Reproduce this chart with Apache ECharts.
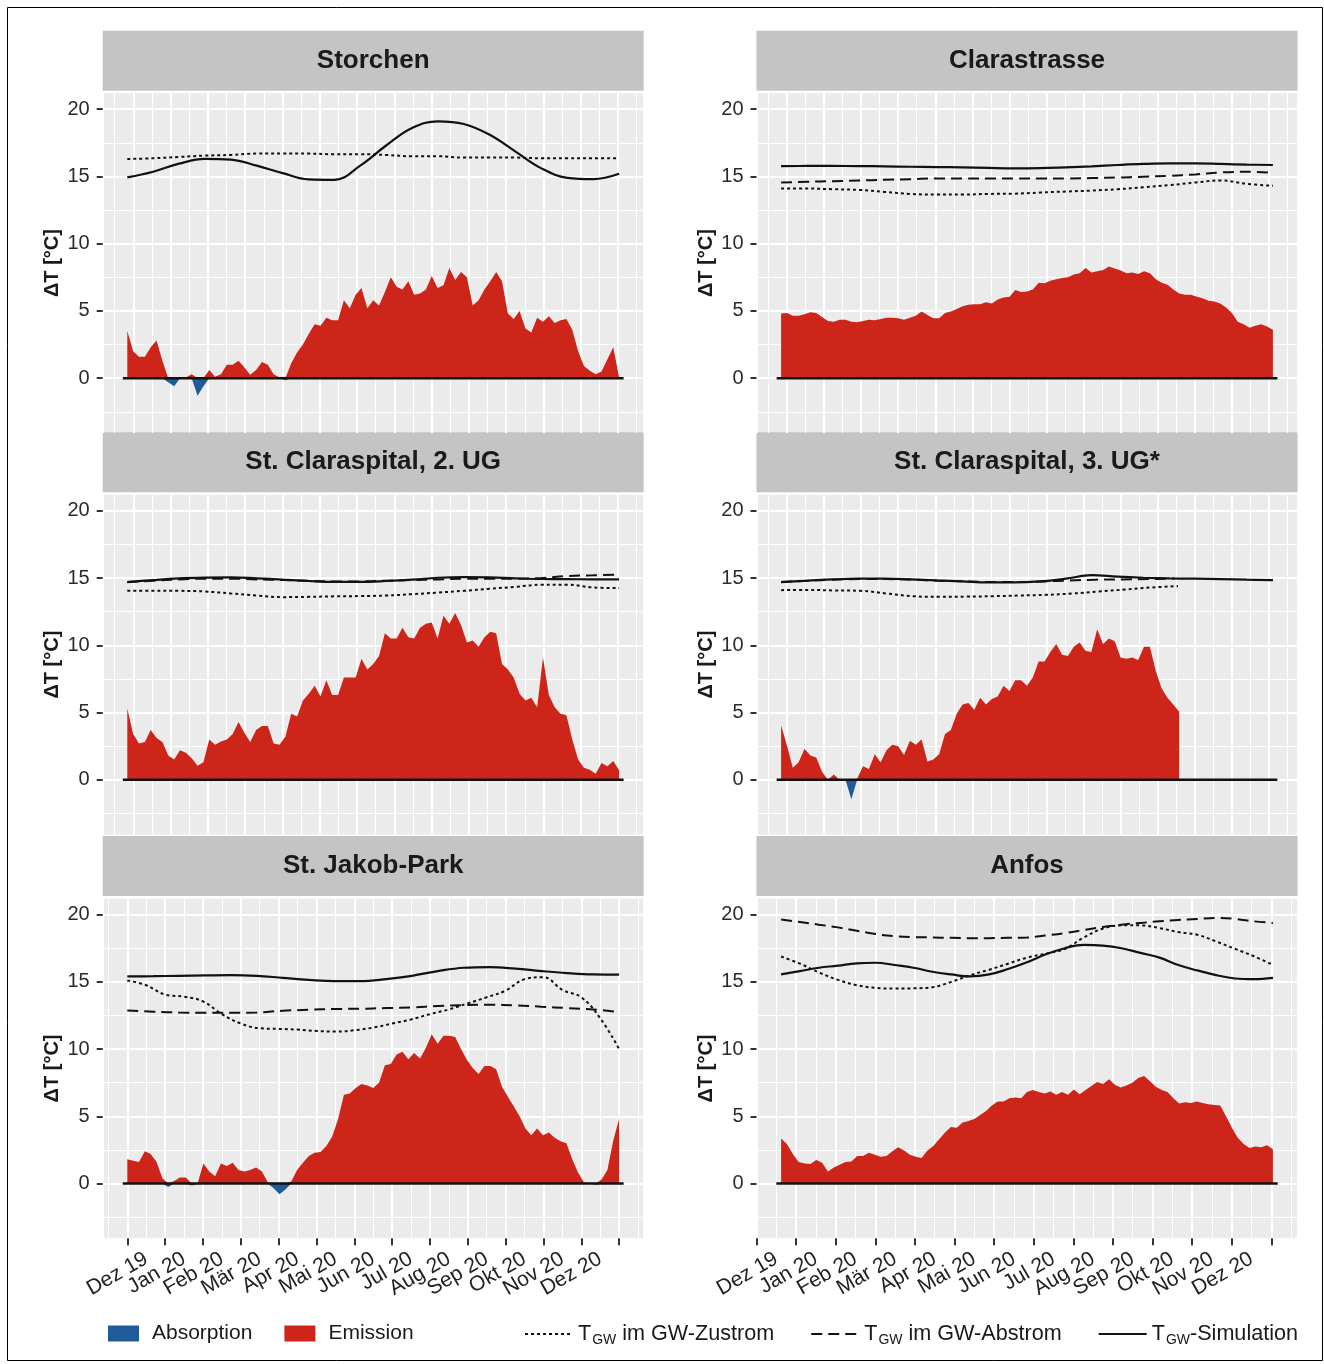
<!DOCTYPE html>
<html><head><meta charset="utf-8">
<script src="https://cdn.jsdelivr.net/npm/echarts@6/dist/echarts.min.js"></script>
<style>html,body{margin:0;padding:0;background:#fff}#c{width:1324px;height:1364px}</style>
</head><body><div id="c"></div>
<script>
// ---------- tick labels / titles ----------
const monthLabels = ['Dez 19','Jan 20','Feb 20','Mär 20','Apr 20','Mai 20','Jun 20','Jul 20','Aug 20','Sep 20','Okt 20','Nov 20','Dez 20'];
const yTicks = [0,5,10,15,20];
const panelTitles = ['Storchen','Clarastrasse','St. Claraspital, 2. UG','St. Claraspital, 3. UG*','St. Jakob-Park','Anfos'];
const legendNames = ['Absorption','Emission','Zustrom','Abstrom','Simulation'];
const legendSuffix = {Zustrom:' im GW-Zustrom', Abstrom:' im GW-Abstrom', Simulation:'-Simulation'};

// ---------- data (time in months since 1 Dec 2019, values in °C) ----------
// Storchen
const storchenSpan = [-0.16, 13.03];
const storchenDT = [3.5,2.0,1.6,1.6,2.3,2.8,1.3,-0.3,-0.6,0.0,0.05,0.3,-1.3,-0.6,0.6,0.1,0.3,1.0,1.0,1.3,0.8,0.25,0.6,1.2,1.0,0.3,0.05,-0.15,1.1,1.9,2.5,3.3,4.0,3.9,4.5,4.3,4.3,5.8,5.2,6.2,6.7,5.2,5.8,5.4,6.4,7.5,6.8,6.6,7.2,6.2,6.3,6.6,7.6,6.7,6.9,8.2,7.3,7.9,7.5,5.4,5.8,6.6,7.2,7.9,7.2,4.8,4.4,5.0,3.7,3.4,4.5,4.2,4.6,4.1,4.3,4.4,3.6,2.0,0.9,0.55,0.3,0.5,1.4,2.3,0.05];
const storchenZu = [16.3,16.35,16.45,16.55,16.6,16.7,16.7,16.7,16.65,16.65,16.6,16.5,16.5,16.4,16.4,16.4,16.35,16.35,16.35,16.35];
const storchenSim = [14.93,15.35,15.95,16.3,16.25,15.8,15.25,14.78,14.75,15.8,17.3,18.6,19.1,18.9,18.1,16.85,15.6,14.9,14.8,15.2];
// Clarastrasse
const claraSpan = [-0.16, 13.11];
const claraDT = [4.8,4.85,4.65,4.65,4.75,4.9,4.85,4.55,4.25,4.2,4.35,4.35,4.2,4.15,4.25,4.35,4.3,4.4,4.5,4.5,4.45,4.35,4.5,4.65,4.95,4.7,4.45,4.45,4.85,4.95,5.15,5.35,5.45,5.5,5.5,5.65,5.55,5.85,6.0,6.05,6.55,6.4,6.45,6.6,7.1,7.05,7.25,7.35,7.45,7.5,7.7,7.8,8.2,7.85,7.95,8.05,8.3,8.15,8.0,7.8,7.85,7.75,7.95,7.8,7.35,7.1,6.95,6.6,6.3,6.2,6.2,6.05,5.95,5.75,5.7,5.55,5.25,4.85,4.2,4.0,3.75,3.9,4.0,3.85,3.6];
const claraZu = [14.1,14.1,14.05,14.0,13.85,13.7,13.65,13.65,13.7,13.72,13.8,13.88,13.95,14.05,14.2,14.35,14.55,14.7,14.45,14.3];
const claraAb = [14.55,14.6,14.65,14.7,14.75,14.8,14.85,14.85,14.85,14.85,14.85,14.85,14.88,14.92,14.98,15.05,15.15,15.3,15.35,15.27];
const claraSim = [15.77,15.78,15.78,15.77,15.75,15.72,15.7,15.67,15.63,15.6,15.62,15.68,15.75,15.85,15.93,15.97,15.97,15.93,15.88,15.85];
// St. Claraspital, 2. UG
const spital2Span = [-0.16, 13.03];
const spital2DT = [5.3,3.4,2.7,2.8,3.7,3.1,2.8,1.8,1.5,2.2,2.0,1.6,1.05,1.3,3.0,2.6,2.85,3.0,3.4,4.3,3.5,2.8,3.7,4.0,4.0,2.7,2.6,3.2,4.9,4.7,5.9,6.4,7.0,6.2,7.4,6.3,6.3,7.6,7.6,7.6,9.0,8.2,8.6,9.2,10.9,10.5,10.5,11.3,10.6,10.5,11.3,11.6,11.7,10.5,12.2,11.6,12.4,11.5,10.2,10.35,9.9,10.6,11.0,10.9,8.6,8.2,7.6,6.4,5.9,6.1,5.4,9.1,6.3,5.4,4.9,4.8,3.0,1.5,0.9,0.75,0.45,1.25,1.0,1.4,0.7];
const spital2Zu = [14.06,14.06,14.05,14.0,13.85,13.7,13.58,13.6,13.64,13.66,13.7,13.8,13.92,14.05,14.2,14.35,14.5,14.5,14.3,14.25];
const spital2Ab = [14.7,14.8,14.9,14.95,14.95,14.9,14.85,14.8,14.75,14.75,14.8,14.85,14.9,14.95,14.95,14.95,15.0,15.15,15.2,15.25];
const spital2Sim = [14.7,14.85,14.97,15.03,15.05,14.98,14.88,14.78,14.72,14.72,14.78,14.88,15.02,15.07,15.05,14.98,14.93,14.92,14.9,14.9];
// St. Claraspital, 3. UG*
const spital3Span = [-0.16, 13.11];
const spital3DTSpan = [-0.16, 10.58];
const spital3DT = [4.05,2.55,0.9,1.3,2.3,1.8,1.65,0.6,-0.1,0.4,-0.05,0.05,-1.45,0.1,1.0,0.8,1.9,1.3,2.2,2.6,2.5,1.85,2.9,2.6,3.0,1.35,1.5,1.9,3.4,3.7,4.9,5.6,5.7,5.2,6.1,5.6,6.0,6.2,7.0,6.6,7.4,7.4,7.0,7.6,8.8,8.8,9.5,10.1,9.3,9.2,9.9,10.2,9.6,9.5,11.2,10.1,10.5,10.3,9.1,9.0,9.1,8.9,9.9,9.9,8.1,6.8,6.1,5.6,5.05];
const spital3ZuSpan = [-0.16, 10.55];
const spital3Zu = [14.1,14.12,14.08,14.05,13.85,13.65,13.6,13.62,13.65,13.7,13.75,13.85,14.0,14.15,14.3,14.4];
const spital3AbSpan = [-0.16, 10.46];
const spital3Ab = [14.7,14.8,14.88,14.92,14.92,14.88,14.8,14.75,14.7,14.7,14.75,14.82,14.88,14.9,14.92,14.97];
const spital3Sim = [14.7,14.8,14.9,14.95,14.95,14.9,14.82,14.75,14.68,14.68,14.75,14.95,15.22,15.1,15.02,14.97,14.95,14.92,14.88,14.85];
// St. Jakob-Park
const jakobSpan = [0, 13];
const jakobDT = [1.8,1.7,1.6,2.4,2.2,1.6,0.4,-0.25,0.2,0.45,0.45,-0.15,-0.05,1.5,0.9,0.55,1.5,1.3,1.55,1.0,0.9,1.0,1.2,0.9,0.1,-0.35,-0.8,-0.45,0.15,1.0,1.55,2.05,2.3,2.35,2.8,3.5,4.8,6.6,6.7,7.1,7.4,7.3,7.1,7.5,8.8,8.9,9.6,9.8,9.25,9.7,9.3,10.1,11.1,10.4,11.0,11.0,10.9,10.0,9.2,8.6,8.15,8.75,8.75,8.5,7.2,6.45,5.75,5.0,4.1,3.6,4.1,3.6,3.8,3.4,3.15,3.0,1.8,0.8,0.1,0.0,-0.1,0.3,1.0,3.2,4.8];
const jakobZu = [15.1,14.75,14.05,13.9,13.55,12.6,11.9,11.55,11.5,11.45,11.35,11.3,11.4,11.6,11.9,12.2,12.6,12.95,13.4,13.85,14.35,15.2,15.35,14.4,13.85,12.3,10.0];
const jakobAb = [12.87,12.78,12.72,12.7,12.7,12.72,12.85,12.92,12.98,13.0,13.05,13.1,13.2,13.27,13.3,13.25,13.15,13.05,12.95,12.75];
const jakobSim = [15.4,15.42,15.45,15.48,15.5,15.45,15.3,15.15,15.05,15.05,15.2,15.45,15.8,16.05,16.1,15.98,15.8,15.65,15.55,15.53];
// Anfos
const anfosSpan = [0.62, 13.04];
const anfosDT = [3.35,2.95,2.2,1.6,1.5,1.45,1.75,1.55,0.9,1.2,1.4,1.6,1.65,2.05,2.05,2.3,2.15,2.0,2.05,2.4,2.7,2.45,2.15,2.0,1.9,2.45,2.8,3.3,3.8,4.2,4.15,4.55,4.65,4.8,5.1,5.4,5.8,6.1,6.1,6.35,6.4,6.35,6.8,6.95,6.8,6.7,6.85,6.6,6.8,6.6,7.0,6.65,6.95,7.25,7.55,7.4,7.75,7.35,7.15,7.3,7.5,7.85,8.0,7.6,7.2,6.95,6.8,6.35,5.95,6.05,6.0,6.1,6.0,5.9,5.85,5.8,5.0,4.15,3.4,2.95,2.65,2.75,2.7,2.85,2.55];
const anfosZu = [16.88,16.35,15.7,15.15,14.75,14.55,14.5,14.52,14.6,15.0,15.5,15.9,16.35,16.8,17.1,17.45,18.3,18.95,19.2,19.2,19.0,18.7,18.5,18.0,17.45,16.9,16.26];
const anfosAb = [19.63,19.45,19.25,19.05,18.8,18.55,18.4,18.33,18.3,18.27,18.25,18.25,18.28,18.3,18.45,18.62,18.85,19.08,19.25,19.38,19.5,19.6,19.68,19.75,19.68,19.5,19.38];
const anfosSim = [15.56,15.8,16.05,16.2,16.38,16.42,16.25,16.05,15.75,15.55,15.4,15.55,15.95,16.45,17.05,17.5,17.75,17.7,17.5,17.15,16.8,16.25,15.85,15.5,15.25,15.2,15.3];

// ---------- assembly ----------
const panels = [
  {span: storchenSpan, dt: storchenDT, dtSpan: storchenSpan, zu: storchenZu, zuSpan: storchenSpan, ab: null, sim: storchenSim},
  {span: claraSpan, dt: claraDT, dtSpan: claraSpan, zu: claraZu, zuSpan: claraSpan, ab: claraAb, abSpan: claraSpan, sim: claraSim},
  {span: spital2Span, dt: spital2DT, dtSpan: spital2Span, zu: spital2Zu, zuSpan: spital2Span, ab: spital2Ab, abSpan: spital2Span, sim: spital2Sim},
  {span: spital3Span, dt: spital3DT, dtSpan: spital3DTSpan, zu: spital3Zu, zuSpan: spital3ZuSpan, ab: spital3Ab, abSpan: spital3AbSpan, sim: spital3Sim},
  {span: jakobSpan, dt: jakobDT, dtSpan: jakobSpan, zu: jakobZu, zuSpan: jakobSpan, ab: jakobAb, abSpan: jakobSpan, sim: jakobSim},
  {span: anfosSpan, dt: anfosDT, dtSpan: anfosSpan, zu: anfosZu, zuSpan: anfosSpan, ab: anfosAb, abSpan: anfosSpan, sim: anfosSim}
];
function spread(vals, span) {
  const n = vals.length;
  return vals.map((v, i) => [span[0] + (span[1] - span[0]) * i / (n - 1), v]);
}

const RED = '#CD251A', BLUE = '#1F5A99', FONT = "'Liberation Sans', Arial, sans-serif";
const colLeft = [102.7, 756.5], colW = 541;
const rowTop = [93.2, 494.8, 898.6], rowH = 339.7;

const grids = [], xAxes = [], yAxes = [], series = [], graphics = [];
graphics.push({type: 'rect', shape: {x: 7.5, y: 7.5, width: 1315, height: 1353}, style: {fill: 'none', stroke: '#000', lineWidth: 1}, silent: true});
const monthAxes = [];

panels.forEach((p, i) => {
  const r = Math.floor(i / 2), c = i % 2, isBottom = r === 2;
  const ext = 0.05 * (p.span[1] - p.span[0]);
  const xmin = p.span[0] - ext, xmax = p.span[1] + ext;
  grids.push({left: colLeft[c], top: rowTop[r], width: colW, height: rowH, show: true, backgroundColor: '#EBEBEB', borderWidth: 0, containLabel: false});
  xAxes.push({
    type: 'value', gridIndex: i, min: xmin, max: xmax,
    minInterval: 1, maxInterval: 1,
    axisLine: {show: false, onZero: false}, axisTick: {show: false}, axisLabel: {show: false},
    splitLine: {show: true, lineStyle: {color: '#fff', width: 2}},
    minorTick: {show: false, splitNumber: 2},
    minorSplitLine: {show: true, lineStyle: {color: '#fff', width: 1}}
  });
  yAxes.push({
    type: 'value', gridIndex: i, min: -4.07, max: 21.19, minInterval: 5, maxInterval: 5,
    name: 'ΔT [°C]', nameLocation: 'middle', nameGap: 40, nameRotate: 90,
    nameTextStyle: {fontSize: 20, fontWeight: 'bold', color: '#1a1a1a', fontFamily: FONT},
    axisLine: {show: false, onZero: false},
    axisTick: {show: true, customValues: yTicks, length: 6, lineStyle: {color: '#333', width: 2}},
    axisLabel: {customValues: yTicks, fontSize: 20, color: '#2b2b2b', margin: 13, fontFamily: FONT},
    splitLine: {show: true, lineStyle: {color: '#fff', width: 2}},
    minorTick: {show: false, splitNumber: 2},
    minorSplitLine: {show: true, lineStyle: {color: '#fff', width: 1}}
  });
  if (isBottom) {
    // month-band axis: covers month starts 0..13 of this panel's time scale
    const ppm = colW / (xmax - xmin);
    monthAxes.push({left: colLeft[c] + (0 - xmin) * ppm, width: (monthLabels.length) * ppm, top: rowTop[r]});
  }
  const pts = spread(p.dt, p.dtSpan);
  const base = {type: 'line', xAxisIndex: i, yAxisIndex: i, symbol: 'none', showSymbol: false, silent: true, animation: false};
  series.push(Object.assign({}, base, {name: 'Emission', z: 2, data: pts.map(q => [q[0], Math.max(q[1], 0)]),
    itemStyle: {color: RED}, lineStyle: {width: 0, color: RED}, areaStyle: {color: RED, opacity: 1}}));
  series.push(Object.assign({}, base, {name: 'Absorption', z: 2, data: pts.map(q => [q[0], Math.min(q[1], 0)]),
    itemStyle: {color: BLUE}, lineStyle: {width: 0, color: BLUE}, areaStyle: {color: BLUE, opacity: 1}}));
  series.push(Object.assign({}, base, {name: 'zero', z: 3, data: [[p.span[0] - 0.12, 0], [p.span[1] + 0.12, 0]],
    itemStyle: {color: '#111'}, lineStyle: {width: 2.5, color: '#111'}}));
  series.push(Object.assign({}, base, {name: 'Zustrom', z: 4, smooth: 0.4, data: spread(p.zu, p.zuSpan),
    itemStyle: {color: '#111'}, lineStyle: {width: 2, color: '#111', type: [3, 3]}}));
  if (p.ab) series.push(Object.assign({}, base, {name: 'Abstrom', z: 4, smooth: 0.4, data: spread(p.ab, p.abSpan),
    itemStyle: {color: '#111'}, lineStyle: {width: 2, color: '#111', type: [11, 6]}}));
  series.push(Object.assign({}, base, {name: 'Simulation', z: 4, smooth: 0.4, data: spread(p.sim, p.span),
    itemStyle: {color: '#111'}, lineStyle: {width: 2.2, color: '#111'}}));

  // facet strip
  graphics.push({type: 'rect', shape: {x: colLeft[c], y: rowTop[r] - 62.5, width: colW, height: 60}, style: {fill: '#C4C4C4'}, silent: true});
  graphics.push({type: 'text', x: colLeft[c] + colW / 2, y: rowTop[r] - 32.5, silent: true,
    style: {text: panelTitles[i], fontSize: 26, fontWeight: 'bold', fontFamily: FONT, fill: '#1a1a1a', align: 'center', verticalAlign: 'middle', textAlign: 'center', textVerticalAlign: 'middle'}});
});

// month band axes (ticks at month boundaries, labels centred in the month)
monthAxes.forEach(m => {
  const gi = grids.length;
  grids.push({left: m.left, top: m.top, width: m.width, height: rowH, show: false, containLabel: false});
  xAxes.push({type: 'category', gridIndex: gi, data: monthLabels, boundaryGap: true, position: 'bottom',
    axisLine: {show: false, onZero: false},
    axisTick: {show: true, alignWithLabel: false, interval: 0, length: 7, lineStyle: {color: '#333', width: 2}},
    axisLabel: {interval: 0, rotate: 30, fontSize: 21, color: '#222', margin: 19, fontFamily: FONT},
    splitLine: {show: false}});
  yAxes.push({type: 'value', gridIndex: gi, show: false, min: 0, max: 1});
});

const chart = echarts.init(document.getElementById('c'), null, {renderer: 'canvas'});
chart.setOption({
  animation: false,
  backgroundColor: '#fff',
  textStyle: {fontFamily: FONT},
  grid: grids, xAxis: xAxes, yAxis: yAxes, series: series, graphic: graphics,
  legend: [
    {data: legendNames.slice(0, 2), left: 103, top: 1318, icon: 'rect', itemWidth: 31, itemHeight: 16, itemGap: 32,
     selectedMode: false, textStyle: {fontSize: 21, color: '#1a1a1a', padding: [0, 0, 0, 8], fontFamily: FONT}},
    {data: legendNames.slice(2), left: 519, top: 1318, itemWidth: 48, itemHeight: 14, itemGap: 36, selectedMode: false,
     itemStyle: {opacity: 0, borderWidth: 0},
     formatter: n => '{n|T}{s|GW}{n|' + legendSuffix[n] + '}',
     textStyle: {fontSize: 21.6, color: '#1a1a1a', padding: [0, 0, 0, 0], fontFamily: FONT,
       rich: {n: {fontSize: 21.6, color: '#1a1a1a', fontFamily: FONT}, s: {fontSize: 14, color: '#1a1a1a', fontFamily: FONT, padding: [13, 0, 0, 1]}}}}
  ]
});
</script></body></html>
